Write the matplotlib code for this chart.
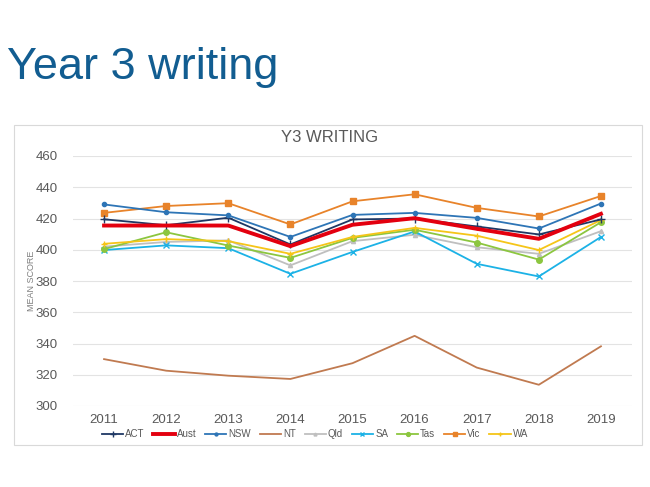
import matplotlib.pyplot as plt
from matplotlib.patches import Rectangle

# data
years = ['2011', '2012', '2013', '2014', '2015', '2016', '2017', '2018', '2019']
act = [419.5, 415.7, 420.5, 403.4, 419.4, 420.0, 414.9, 409.8, 419.4]
aust = [415.5, 415.5, 415.5, 402.3, 416.0, 420.2, 413.4, 407.0, 423.0]
nsw = [429.0, 424.0, 422.0, 408.2, 422.3, 423.6, 420.4, 413.6, 429.6]
nt = [330.0, 322.6, 319.4, 317.3, 327.4, 344.9, 324.6, 313.6, 338.2]
qld = [402.0, 405.0, 406.0, 390.0, 405.5, 409.6, 401.6, 397.4, 411.9]
sa = [399.8, 402.8, 401.0, 384.6, 398.6, 411.7, 391.0, 382.9, 408.2]
tas = [400.4, 411.2, 402.7, 394.8, 407.6, 412.8, 404.6, 393.7, 417.6]
vic = [423.6, 428.0, 429.8, 416.2, 431.0, 435.5, 426.8, 421.3, 434.4]
wa = [403.8, 406.8, 405.5, 397.4, 408.2, 414.0, 409.0, 399.8, 419.0]

plt.rcParams['font.family'] = ['Liberation Sans', 'DejaVu Sans']

fig = plt.figure(figsize=(6.5, 4.87), dpi=100)
fig.patch.set_facecolor('white')

# slide title
fig.text(7/650, 1 - 68/487, 'Year 3 writing', fontsize=32.5, color='#125d91',
         ha='left', va='center')

# chart frame
fig.patches.append(Rectangle((14/650, 1 - 445/487), 628/650, 320/487,
                             transform=fig.transFigure, fill=False,
                             edgecolor='#d9d9d9', linewidth=0.8))

ax = fig.add_axes([73/650, 1 - 406/487, 559/650, 250/487])
x = range(len(years))

ax.plot(x, act, color='#1f3864', lw=1.3, marker='+', ms=6, mew=1.0, label='ACT', zorder=5)
ax.plot(x, aust, color='#e3000f', lw=2.8, label='Aust', zorder=6)
ax.plot(x, nsw, color='#2e75b6', lw=1.3, marker='o', ms=3, label='NSW', zorder=5)
ax.plot(x, nt, color='#c07a50', lw=1.3, label='NT', zorder=4)
ax.plot(x, qld, color='#bfbfbf', lw=1.3, marker='^', ms=3, label='Qld', zorder=3)
ax.plot(x, sa, color='#1cb2e6', lw=1.3, marker='x', ms=4, mew=1.0, label='SA', zorder=3)
ax.plot(x, tas, color='#8cc63f', lw=1.3, marker='o', ms=4, label='Tas', zorder=4)
ax.plot(x, vic, color='#e8832a', lw=1.3, marker='s', ms=4, label='Vic', zorder=4)
ax.plot(x, wa, color='#f5c518', lw=1.3, marker='+', ms=5, label='WA', zorder=4)

ax.set_xlim(-0.5, len(years) - 0.5)
ax.set_ylim(300, 460)
ax.set_yticks(range(300, 461, 20))
ax.set_xticks(list(x))
ax.set_xticklabels(years)
ax.grid(axis='y', color='#e3e3e3', lw=0.8)
ax.set_axisbelow(True)
for s in ax.spines.values():
    s.set_visible(False)
ax.tick_params(length=0, colors='#595959', labelsize=9.5)
ax.tick_params(axis='y', pad=11)
ax.tick_params(axis='x', pad=6)

# chart title and axis label
fig.text(330/650, 1 - 137/487, 'Y3 WRITING', fontsize=12, color='#595959',
         ha='center', va='center')
fig.text(32/650, 1 - 281/487, 'MEAN SCORE', rotation=90, fontsize=6.5,
         color='#7f7f7f', ha='center', va='center')

leg = ax.legend(loc='center', bbox_to_anchor=((315 - 73)/559, (406 - 434)/250),
                ncol=9, frameon=False, fontsize=7, handlelength=2.2,
                handletextpad=0.2, columnspacing=0.9, labelcolor='#595959',
                markerscale=0.7)

plt.savefig('out.png', dpi=100)
